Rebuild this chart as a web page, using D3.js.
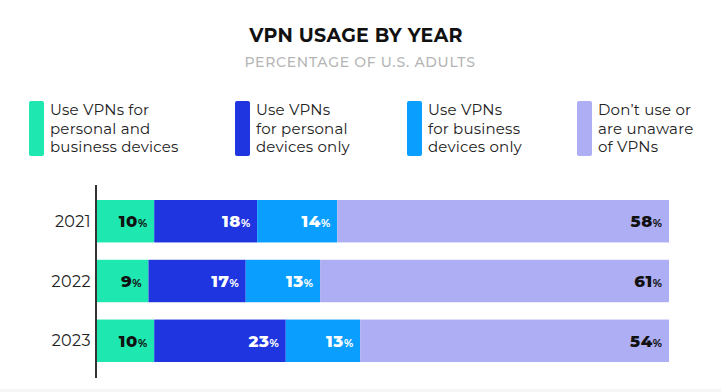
<!DOCTYPE html>
<html>
<head>
<meta charset="utf-8">
<script src="https://cdn.jsdelivr.net/npm/d3@7"></script>
<style>
  body { margin: 0; background: #fff; }
  text { font-family: "Montserrat", "Inter", "Noto Sans", sans-serif; }
</style>
</head>
<body>
<div class="chart"></div>
<script>
// chart data
var years = ["2021", "2022", "2023"];
var seriesNames = ["both", "personal", "business", "none"];
var legendLabels = [
  ["Use VPNs for", "personal and", "business devices"],
  ["Use VPNs", "for personal", "devices only"],
  ["Use VPNs", "for business", "devices only"],
  ["Don\u2019t use or", "are unaware", "of VPNs"]
];
var bothValues = [10, 9, 10];
var personalValues = [18, 17, 23];
var businessValues = [14, 13, 13];
var noneValues = [58, 61, 54];

var colors = ["#1ee8b0", "#1f35e0", "#0a9eff", "#adaef3"];
var labelColors = ["#111", "#fff", "#fff", "#111"];

// setting up the chart
var widthSVG = 721;
var heightSVG = 392;
var margins = { top: 200, right: 52, bottom: 30, left: 97 };
var width = widthSVG - margins.left - margins.right;

var svg = d3.select(".chart")
  .append("svg")
  .attr("width", widthSVG)
  .attr("height", heightSVG);

// faint footer band
svg.append("rect")
  .attr("x", 0).attr("y", 389)
  .attr("width", widthSVG).attr("height", 3)
  .attr("fill", "#f6f6f6");

// titles
svg.append("text")
  .attr("x", 356).attr("y", 42)
  .attr("text-anchor", "middle")
  .attr("font-size", 19)
  .attr("font-weight", 700)
  .attr("fill", "#111")
  .attr("letter-spacing", 0.3)
  .text("VPN USAGE BY YEAR");

svg.append("text")
  .attr("x", 360).attr("y", 67)
  .attr("text-anchor", "middle")
  .attr("font-size", 14)
  .attr("font-weight", 500)
  .attr("fill", "#b5b5b5")
  .attr("letter-spacing", 0.7)
  .text("PERCENTAGE OF U.S. ADULTS");

// legend
var legendX = [29, 235, 407, 577];
var legend = svg.selectAll(".legend")
  .data(seriesNames)
  .enter()
  .append("g")
  .attr("class", "legend")
  .attr("transform", (d, i) => `translate(${legendX[i]}, 101)`);

legend.append("rect")
  .attr("width", 15)
  .attr("height", 55)
  .attr("rx", 2)
  .attr("fill", (d, i) => colors[i]);

legend.append("text")
  .attr("x", 21)
  .attr("y", 14)
  .attr("font-size", 15)
  .attr("fill", "#222")
  .attr("letter-spacing", 0.2)
  .selectAll("tspan")
  .data((d, i) => legendLabels[i])
  .enter()
  .append("tspan")
  .attr("x", 21)
  .attr("dy", (d, i) => i === 0 ? 0 : 18.5)
  .text(d => d);

// stacking
var table = years.map((y, i) => ({
  year: y,
  both: bothValues[i],
  personal: personalValues[i],
  business: businessValues[i],
  none: noneValues[i]
}));
var stacked = d3.stack().keys(seriesNames)(table);

var xScale = d3.scaleLinear().domain([0, 100]).range([0, width]);
var yScale = d3.scaleBand().domain(years).range([0, 162]).paddingInner(0.29).paddingOuter(0);

var chart = svg.append("g")
  .attr("transform", `translate(${margins.left}, ${margins.top})`);

var layers = chart.selectAll(".layer")
  .data(stacked)
  .enter()
  .append("g")
  .attr("class", "layer")
  .attr("fill", (d, i) => colors[i]);

layers.selectAll("rect")
  .data(d => d)
  .enter()
  .append("rect")
  .attr("x", d => xScale(d[0]))
  .attr("y", d => yScale(d.data.year))
  .attr("width", d => xScale(d[1]) - xScale(d[0]))
  .attr("height", yScale.bandwidth());

// value labels
layers.each(function (series, si) {
  var lbl = d3.select(this).selectAll("text")
    .data(series)
    .enter()
    .append("text")
    .attr("x", d => xScale(d[1]) - 7)
    .attr("y", d => yScale(d.data.year) + yScale.bandwidth() / 2 + 6)
    .attr("text-anchor", "end")
    .attr("fill", labelColors[si]);
  lbl.append("tspan")
    .attr("font-size", 16.5)
    .attr("font-weight", 800)
    .attr("letter-spacing", 0.6)
    .text(d => d[1] - d[0]);
  lbl.append("tspan")
    .attr("font-size", 10.5)
    .attr("font-weight", 700)
    .text("%");
});

// year axis
var leftAxis = d3.axisLeft(yScale).tickSize(0).tickPadding(6);
var axisG = chart.append("g").call(leftAxis);
axisG.select(".domain").remove();
axisG.selectAll("text")
  .attr("font-size", 16)
  .attr("fill", "#222")
  .attr("letter-spacing", 0.4)
  .attr("dy", "0.35em");

chart.append("line")
  .attr("x1", -1).attr("x2", -1)
  .attr("y1", -15).attr("y2", 178)
  .attr("stroke", "#333")
  .attr("stroke-width", 2);
</script>
</body>
</html>
